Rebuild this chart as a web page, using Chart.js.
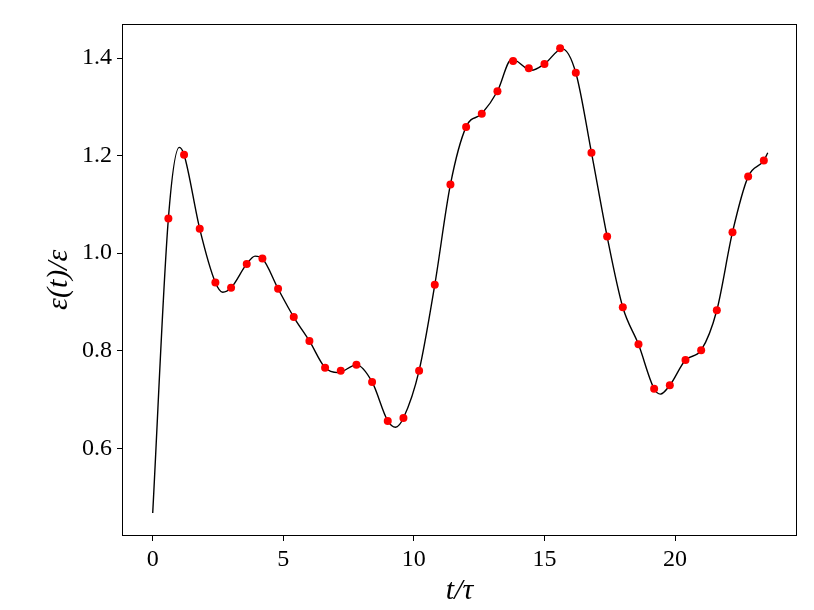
<!DOCTYPE html>
<html>
<head>
<meta charset="utf-8">
<script src="https://cdn.jsdelivr.net/npm/chart.js@4.4.1/dist/chart.umd.min.js"></script>
<style>
  html, body { margin: 0; padding: 0; background: #ffffff; }
  #c { display: block; }
</style>
</head>
<body>
<canvas id="c" width="814" height="610"></canvas>
<script>
// Sampled points (red markers)
const sampleT = [0.6, 1.2, 1.8, 2.4, 3.0, 3.6, 4.2, 4.8, 5.4, 6.0, 6.6, 7.2, 7.8, 8.4, 9.0, 9.6,
  10.2, 10.8, 11.4, 12.0, 12.6, 13.2, 13.8, 14.4, 15.0, 15.6, 16.2, 16.8, 17.4, 18.0, 18.6,
  19.2, 19.8, 20.4, 21.0, 21.6, 22.2, 22.8, 23.4];
const sampleE = [1.071, 1.202, 1.050, 0.940, 0.929, 0.978, 0.989, 0.927, 0.869, 0.820, 0.765, 0.759,
  0.771, 0.736, 0.656, 0.662, 0.759, 0.935, 1.141, 1.259, 1.286, 1.332, 1.394, 1.379, 1.388, 1.420,
  1.370, 1.206, 1.034, 0.889, 0.813, 0.722, 0.729, 0.781, 0.801, 0.883, 1.043, 1.157, 1.190];

// Continuous curve (black line)
const curveT = [0, 0.6, 1.02, 1.2, 1.8, 2.4, 2.68, 3.0, 3.6, 3.92, 4.2, 4.8, 5.4, 6.0, 6.6, 7.1, 7.8,
  8.4, 9.0, 9.3, 9.6, 10.2, 10.8, 11.4, 12.0, 12.6, 13.2, 13.75, 14.5, 15.0, 15.68, 16.2, 16.8,
  17.4, 18.0, 18.6, 19.2, 19.44, 19.8, 20.4, 21.0, 21.6, 22.2, 22.8, 23.4, 23.55];
const curveE = [0.467, 1.071, 1.217, 1.202, 1.050, 0.940, 0.920, 0.929, 0.978, 0.994, 0.989, 0.927,
  0.869, 0.820, 0.765, 0.755, 0.771, 0.736, 0.656, 0.643, 0.662, 0.759, 0.935, 1.141, 1.259, 1.286,
  1.332, 1.398, 1.375, 1.388, 1.419, 1.370, 1.206, 1.034, 0.889, 0.813, 0.722, 0.711, 0.729, 0.781,
  0.801, 0.883, 1.043, 1.157, 1.190, 1.206];

const xTicks = [0, 5, 10, 15, 20];
const yTicks = [0.6, 0.8, 1.0, 1.2, 1.4];
const xTitle = 't/τ';
const yTitle = 'ε(t)/ε';

const samplePts = sampleT.map((t, i) => ({ x: t, y: sampleE[i] }));
const curvePts = curveT.map((t, i) => ({ x: t, y: curveE[i] }));

const tickFont = { family: "'Liberation Serif', 'DejaVu Serif', serif", size: 24 };
const titleFont = { family: "'Liberation Serif', 'DejaVu Serif', serif", size: 30, style: 'italic', lineHeight: 1.2 };

const framePlugin = {
  id: 'frame',
  afterDraw(chart) {
    const a = chart.chartArea;
    const ctx = chart.ctx;
    ctx.save();
    ctx.strokeStyle = '#000';
    ctx.lineWidth = 1;
    ctx.strokeRect(Math.round(a.left) + 0.5, Math.round(a.top) + 0.5,
      Math.round(a.right) - Math.round(a.left) - 1, Math.round(a.bottom) - Math.round(a.top) - 1);
    ctx.restore();
  }
};

new Chart(document.getElementById('c'), {
  type: 'scatter',
  data: {
    datasets: [
      {
        label: 'samples',
        data: samplePts,
        showLine: false,
        pointRadius: 4,
        pointHoverRadius: 4,
        pointBackgroundColor: '#ff0000',
        pointBorderColor: '#ff0000',
        pointBorderWidth: 0
      },
      {
        label: 'curve',
        data: curvePts,
        showLine: true,
        borderColor: '#000000',
        borderWidth: 1.4,
        pointRadius: 0,
        cubicInterpolationMode: 'monotone',
        fill: false
      }
    ]
  },
  options: {
    responsive: false,
    animation: false,
    events: [],
    layout: { padding: { top: 23.5, right: 17, left: 0, bottom: 0 } },
    plugins: { legend: { display: false }, tooltip: { enabled: false } },
    scales: {
      x: {
        type: 'linear',
        min: -1.176,
        max: 24.67,
        afterFit(s) { s.height = 74; },
        afterBuildTicks(s) { s.ticks = xTicks.map(v => ({ value: v })); },
        border: { display: false },
        grid: { display: true, drawOnChartArea: false, drawTicks: true, tickLength: 5, tickColor: '#000', lineWidth: 1 },
        ticks: { color: '#000', font: tickFont, padding: 4, maxRotation: 0, callback: v => String(v) },
        title: { display: true, text: xTitle, color: '#000', font: titleFont, padding: { top: 0, bottom: 1 } }
      },
      y: {
        type: 'linear',
        min: 0.42,
        max: 1.471,
        afterFit(s) { s.width = 122; },
        afterBuildTicks(s) { s.ticks = yTicks.map(v => ({ value: v })); },
        border: { display: false },
        grid: { display: true, drawOnChartArea: false, drawTicks: true, tickLength: 5, tickColor: '#000', lineWidth: 1 },
        ticks: { color: '#000', font: tickFont, padding: 5, callback: v => Number(v).toFixed(1) },
        title: { display: true, text: yTitle, color: '#000', font: titleFont, padding: { top: 41, bottom: 0 } }
      }
    }
  },
  plugins: [framePlugin]
});
</script>
</body>
</html>
